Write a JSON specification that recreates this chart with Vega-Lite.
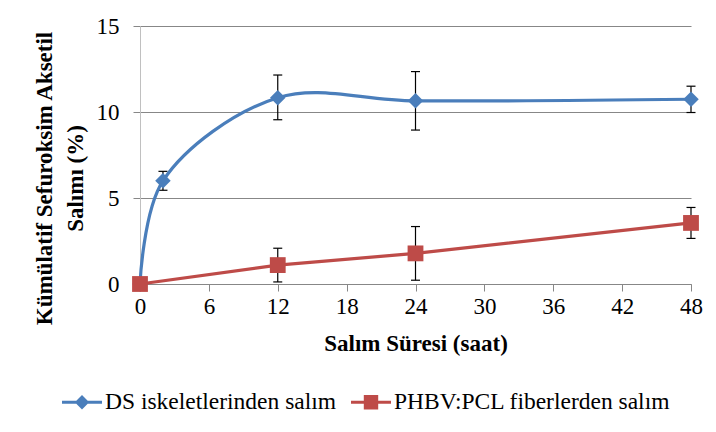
{
  "$schema": "https://vega.github.io/schema/vega-lite/v6.json",
  "autosize": {"type": "none"},
  "padding": {"left": 140, "top": 26, "right": 25, "bottom": 148},
  "width": 551,
  "height": 258,
  "background": "white",
  "config": {
    "font": "Liberation Serif",
    "view": {"stroke": null},
    "axis": {"labelFont": "Liberation Serif", "titleFont": "Liberation Serif", "labelColor": "black", "titleColor": "black", "labelFontSize": 23, "titleFontSize": 23, "titleFontWeight": "bold", "labelFlush": false},
    "legend": {"labelFont": "Liberation Serif", "labelFontSize": 23.5, "labelColor": "black", "padding": 0, "labelLimit": 0}
  },
  "data": {
    "values": [
      {"series": "DS iskeletlerinden salım", "t": 0, "v": 0, "lo": null, "hi": null},
      {"series": "DS iskeletlerinden salım", "t": 2, "v": 6.0, "lo": 5.45, "hi": 6.55},
      {"series": "DS iskeletlerinden salım", "t": 12, "v": 10.83, "lo": 9.55, "hi": 12.15},
      {"series": "DS iskeletlerinden salım", "t": 24, "v": 10.65, "lo": 8.95, "hi": 12.35},
      {"series": "DS iskeletlerinden salım", "t": 48, "v": 10.74, "lo": 9.97, "hi": 11.5},
      {"series": "PHBV:PCL fiberlerden salım", "t": 0, "v": 0, "lo": null, "hi": null},
      {"series": "PHBV:PCL fiberlerden salım", "t": 12, "v": 1.1, "lo": 0.12, "hi": 2.08},
      {"series": "PHBV:PCL fiberlerden salım", "t": 24, "v": 1.78, "lo": 0.22, "hi": 3.34},
      {"series": "PHBV:PCL fiberlerden salım", "t": 48, "v": 3.55, "lo": 2.65, "hi": 4.45}
    ]
  },
  "encoding": {
    "x": {"field": "t", "type": "quantitative", "scale": {"domain": [0, 48], "nice": false},
      "axis": {"values": [0, 6, 12, 18, 24, 30, 36, 42, 48], "title": "Salım Süresi (saat)", "grid": false, "domainColor": "#878787", "tickColor": "#878787", "tickSize": 7, "labelPadding": 4, "titlePadding": 14, "labelFlush": false, "labelFont": "Liberation Serif", "labelFontSize": 23, "titleFont": "Liberation Serif"}},
    "y": {"field": "v", "type": "quantitative", "scale": {"domain": [0, 15], "nice": false},
      "axis": {"values": [0, 5, 10, 15], "title": ["Kümülatif Sefuroksim Aksetil", "Salımı (%)"], "grid": true, "gridColor": "#878787", "domainColor": "#c0c0c0", "tickColor": "#878787", "tickSize": 7, "labelPadding": 14, "labelFlush": false, "labelFont": "Liberation Serif", "labelFontSize": 23, "titleFont": "Liberation Serif", "titleLineHeight": 31, "titleX": -84, "titleY": 152, "titleAngle": -90, "titleAlign": "center", "titleBaseline": "bottom"}}
  },
  "layer": [
    {
      "transform": [{"filter": "datum.lo != null"}],
      "mark": {"type": "rule", "color": "black", "strokeWidth": 1.2},
      "encoding": {
        "y": {"field": "lo", "type": "quantitative"},
        "y2": {"field": "hi"}
      }
    },
    {
      "transform": [{"filter": "datum.lo != null"}],
      "mark": {"type": "tick", "color": "black", "orient": "horizontal", "size": 9, "thickness": 1.2, "opacity": 1},
      "encoding": {
        "y": {"field": "lo", "type": "quantitative"}
      }
    },
    {
      "transform": [{"filter": "datum.lo != null"}],
      "mark": {"type": "tick", "color": "black", "orient": "horizontal", "size": 9, "thickness": 1.2, "opacity": 1},
      "encoding": {
        "y": {"field": "hi", "type": "quantitative"}
      }
    },
    {
      "transform": [{"filter": "datum.series == 'DS iskeletlerinden salım'"}],
      "mark": {"type": "line", "interpolate": "catmull-rom", "strokeWidth": 3.2},
      "encoding": {
        "color": {"field": "series", "type": "nominal", "scale": {"domain": ["DS iskeletlerinden salım", "PHBV:PCL fiberlerden salım"], "range": ["#4a7ebb", "#be4b48"]},
          "legend": {"title": null, "orient": "none", "direction": "horizontal", "legendX": -78, "legendY": 356, "symbolSize": 1600, "labelOffset": 3, "columnPadding": 14, "labelFont": "Liberation Serif", "labelFontSize": 23.5, "labelLimit": 0,
            "encode": {"symbols": {"update": {
              "shape": {"signal": "datum.value == 'DS iskeletlerinden salım' ? 'M-1,-0.075H1V0.075H-1Z M0,-0.36L0.36,0L0,0.36L-0.36,0Z' : 'M-1,-0.075H1V0.075H-1Z M-0.36,-0.36H0.36V0.36H-0.36Z'"},
              "fill": {"signal": "datum.value == 'DS iskeletlerinden salım' ? '#4a7ebb' : '#be4b48'"},
              "strokeWidth": {"value": 0},
              "opacity": {"value": 1}
            }}}}}
      }
    },
    {
      "transform": [{"filter": "datum.series == 'DS iskeletlerinden salım'"}],
      "mark": {"type": "point", "shape": "diamond", "filled": true, "size": 240, "opacity": 1},
      "encoding": {
        "color": {"field": "series", "type": "nominal"}
      }
    },
    {
      "transform": [{"filter": "datum.series == 'PHBV:PCL fiberlerden salım'"}],
      "mark": {"type": "line", "strokeWidth": 3.2},
      "encoding": {
        "color": {"field": "series", "type": "nominal"}
      }
    },
    {
      "transform": [{"filter": "datum.series == 'PHBV:PCL fiberlerden salım'"}],
      "mark": {"type": "point", "shape": "square", "filled": true, "size": 250, "opacity": 1},
      "encoding": {
        "color": {"field": "series", "type": "nominal"}
      }
    }
  ]
}
